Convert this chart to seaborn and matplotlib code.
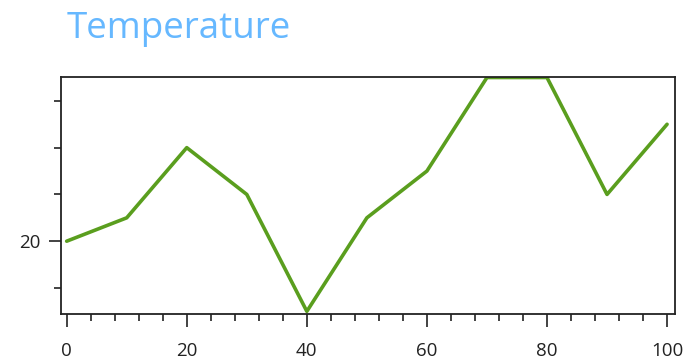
import pandas as pd
import seaborn as sns
import matplotlib.pyplot as plt
from matplotlib.ticker import FixedLocator, MultipleLocator

# data
x_vals = [0, 10, 20, 30, 40, 50, 60, 70, 80, 90, 100]
temps = [20, 25, 40, 30, 5, 25, 35, 55, 55, 30, 45]

df = pd.DataFrame({'x': x_vals, 'temp': temps})

sns.set_style('white')
plt.rcParams['font.family'] = ['Open Sans', 'DejaVu Sans']

fig = plt.figure(figsize=(6.89, 3.6), dpi=100)
ax = fig.add_axes([0.0885, 0.128, 0.891, 0.658])

sns.lineplot(data=df, x='x', y='temp', ax=ax, color='#5a9e1e', linewidth=2.6)

ax.set_xlim(-0.95, 101.3)
ax.set_ylim(4.45, 55.1)

ax.xaxis.set_major_locator(MultipleLocator(20))
ax.xaxis.set_minor_locator(MultipleLocator(4))
ax.yaxis.set_major_locator(FixedLocator([20]))
ax.yaxis.set_minor_locator(FixedLocator([10, 30, 40, 50]))

ax.tick_params(axis='both', which='major', direction='out', length=9, width=1.2,
               color='#222222', labelsize=13.5, labelcolor='#222222', pad=11,
               bottom=True, left=True)
ax.tick_params(axis='both', which='minor', direction='out', length=5, width=1.2,
               color='#222222', bottom=True, left=True)
ax.tick_params(axis='y', which='major', pad=6)

for s in ax.spines.values():
    s.set_color('#222222')
    s.set_linewidth(1.3)

ax.set_xlabel('')
ax.set_ylabel('')

fig.text(0.097, 0.92, 'Temperature', color='#66b8ff', fontsize=26.5,
         ha='left', va='center')

fig.savefig('out.png', dpi=100)
